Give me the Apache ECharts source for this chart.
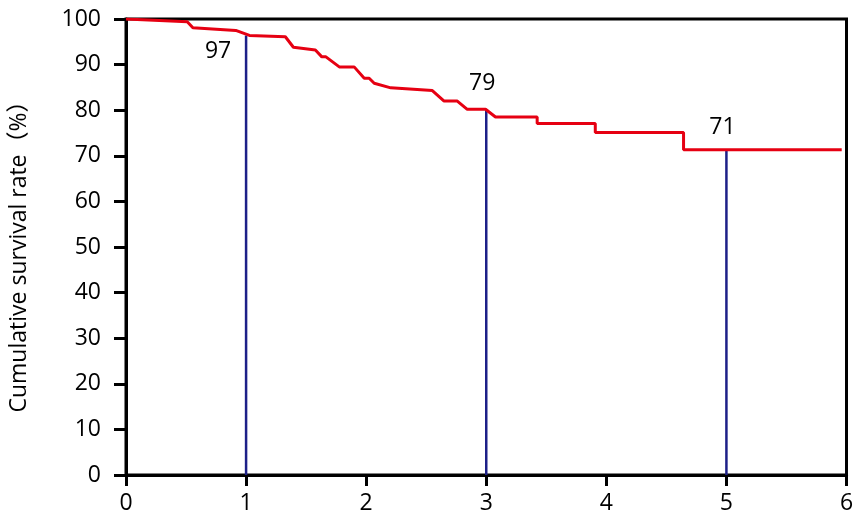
<!DOCTYPE html>
<html>
<head>
<meta charset="utf-8">
<script src="https://cdn.jsdelivr.net/npm/echarts@6/dist/echarts.min.js"></script>
<style>
html,body{margin:0;padding:0;background:#fff;}
#chart{width:864px;height:516px;}
</style>
</head>
<body>
<div id="chart"></div>
<script>
// Kaplan-Meier style survival curve (years, %)
var curveYears = [0, 0.51, 0.557, 0.914, 1.028, 1.327, 1.394, 1.577, 1.631, 1.665, 1.776, 1.9, 1.984, 2.025, 2.067, 2.205, 2.551, 2.649, 2.759, 2.842, 2.994, 3.077, 3.424, 3.424, 3.908, 3.908, 4.643, 4.643, 5.96];
var curveRates = [100, 99.4, 98.1, 97.5, 96.4, 96.1, 93.8, 93.2, 91.7, 91.7, 89.5, 89.5, 87.0, 87.0, 85.9, 84.9, 84.3, 82.0, 82.0, 80.2, 80.2, 78.5, 78.5, 77.1, 77.1, 75.1, 75.1, 71.3, 71.3];
// Survival at 1, 3, 5 years
var markYears = [1, 3, 5];
var markLabels = ['97', '79', '71'];
var markTops = [96.4, 80.2, 71.3];
var xTicks = [0, 1, 2, 3, 4, 5, 6];
var yTicks = [0, 10, 20, 30, 40, 50, 60, 70, 80, 90, 100];
var yAxisName = 'Cumulative survival rate（%）';

var FONT = '"Open Sans", "Noto Sans CJK JP", sans-serif';
var curve = curveYears.map(function (x, i) { return [x, curveRates[i]]; });

var series = [];
markYears.forEach(function (yr, i) {
  series.push({
    type: 'line',
    data: [[yr, 0], [yr, markTops[i]]],
    symbol: 'none',
    silent: true,
    lineStyle: { color: '#1d2088', width: 2.5 },
    z: 2
  });
});
series.push({
  type: 'line',
  data: curve,
  symbol: 'none',
  lineStyle: { color: '#e60012', width: 3 },
  z: 3
});
var labelOffsets = [[-28, 0], [-4, -9], [-4, -6]];
var labelPos = ['bottom', 'top', 'top'];
series.push({
  type: 'scatter',
  symbolSize: 0,
  itemStyle: { opacity: 1 },
  data: markYears.map(function (yr, i) {
    return {
      value: [yr, markTops[i]],
      label: {
        show: true,
        formatter: markLabels[i],
        position: labelPos[i],
        offset: labelOffsets[i],
        fontSize: 23,
        color: '#000',
        opacity: 1,
        fontFamily: FONT
      }
    };
  }),
  z: 4
});

var chart = echarts.init(document.getElementById('chart'), null, { renderer: 'canvas' });
chart.setOption({
  animation: false,
  backgroundColor: '#fff',
  grid: {
    left: 123.5, right: 17.5, top: 19, bottom: 41,
    show: true, borderColor: '#000', borderWidth: 3, backgroundColor: 'transparent'
  },
  xAxis: {
    type: 'value',
    min: xTicks[0], max: xTicks[xTicks.length - 1], interval: 1,
    axisLine: { show: true, lineStyle: { color: '#000', width: 3 } },
    axisTick: { show: true, length: 11, lineStyle: { color: '#000', width: 3 } },
    axisLabel: { color: '#000', fontSize: 23, fontFamily: FONT, margin: 17 },
    splitLine: { show: false }
  },
  yAxis: {
    type: 'value',
    min: yTicks[0], max: yTicks[yTicks.length - 1], interval: 10,
    name: yAxisName,
    nameLocation: 'middle',
    nameGap: 95,
    nameTextStyle: { color: '#000', fontSize: 23, fontFamily: FONT, padding: [0, 8, 0, 0] },
    axisLine: { show: true, lineStyle: { color: '#000', width: 3 } },
    axisTick: { show: true, length: 12, lineStyle: { color: '#000', width: 3 } },
    axisLabel: { color: '#000', fontSize: 23, fontFamily: FONT, margin: 25 },
    splitLine: { show: false }
  },
  series: series
});
</script>
</body>
</html>
